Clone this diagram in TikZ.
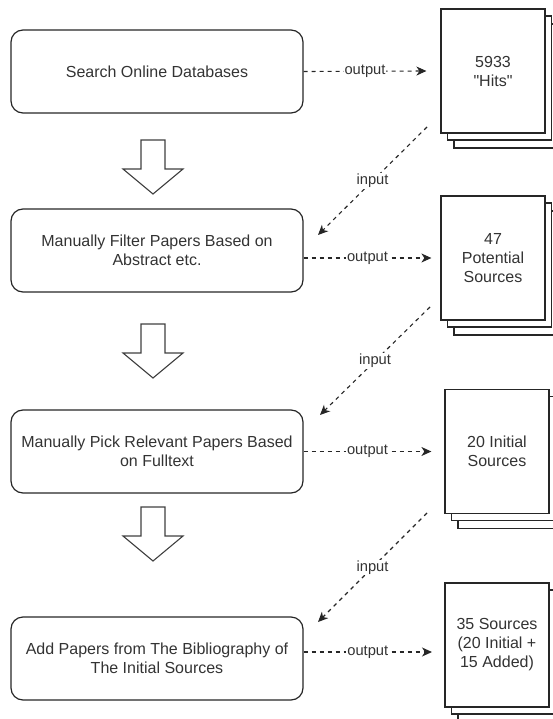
\documentclass[tikz,border=0pt]{standalone}
\usepackage{fontspec}
\setmainfont{Liberation Sans}[Ligatures=TeXOff]
\usetikzlibrary{positioning}
\usetikzlibrary{arrows.meta}
\usetikzlibrary{shadows}

\tikzset{
    task/.style={shape=rectangle,rounded corners=12pt,draw=black!85,line width=1.2pt,
        minimum width=292pt,minimum height=83pt,align=center,text=black!80,
        font=\fontsize{16}{19}\selectfont},
    docs/.style={shape=rectangle,draw=black!85,fill=white,line width=1.2pt,
        minimum width=104pt,minimum height=124pt,align=center,text=black!80,
        font=\fontsize{16}{19}\selectfont,
        general shadow={shadow xshift=13pt,shadow yshift=-15pt,fill=white,draw=black!85,line width=1.1pt},
        general shadow={shadow xshift=6.5pt,shadow yshift=-7pt,fill=white,draw=black!85,line width=1.1pt}},
    flow/.style={draw=black!85,line width=1.1pt,dash pattern=on 4pt off 4pt,
        -{Stealth[length=10pt,width=9pt,inset=3pt]}},
    lbl/.style={fill=white,text=black!80,inner sep=1pt,font=\fontsize{14.7}{17}\selectfont},
    blockdown/.pic={
        \draw[draw=black!75,line width=1.1pt,fill=white]
            (-12,0) -- (12,0) -- (12,29) -- (30,29) -- (0,54) -- (-30,29) -- (-12,29) -- cycle;}
}

\begin{document}
\begin{tikzpicture}[x=1pt,y=-1pt]
    \useasboundingbox (0,0) rectangle (552,719);

    \node[task] (search) at (157,71.5) {Search Online Databases};
    \node[task] (filter) at (157,250.5) {Manually Filter Papers Based on\\Abstract etc.};
    \node[task] (pick) at (157,451.5) {Manually Pick Relevant Papers Based\\on Fulltext};
    \node[task] (add) at (157,658.5) {Add Papers from The Bibliography of\\The Initial Sources};

    \node[docs] (hits) at (493,71) {5933\\"Hits"};
    \node[docs] (potential) at (493,258) {47\\Potential\\Sources};
    \node[docs] (initial) at (497,451.5) {20 Initial\\Sources};
    \node[docs] (total) at (497,645) {35 Sources\\(20 Initial +\\15 Added)};

    \pic (downA) at (153,140) {blockdown};
    \pic (downB) at (153,324) {blockdown};
    \pic (downC) at (153,507) {blockdown};

    \coordinate (out_D) at (432,652);
    \draw [flow] (search.east) -- node[lbl] {output} ([xshift=-14pt]hits.west);
    \draw [flow] (filter.east |- potential.west) -- node[lbl] {output} ([xshift=-9pt]potential.west);
    \draw [flow] (pick.east) -- node[lbl] {output} ([xshift=-13pt]initial.west);
    \draw [flow] (add.east |- out_D) -- node[lbl] {output} (out_D);

    \coordinate (in_A) at (427,127);
    \coordinate (to_A) at (318,235);
    \coordinate (in_B) at (430,307);
    \coordinate (to_B) at (320,415);
    \coordinate (in_C) at (427,513);
    \coordinate (to_C) at (318,622);
    \draw [flow] (in_A) -- node[lbl] {input} (to_A);
    \draw [flow] (in_B) -- node[lbl] {input} (to_B);
    \draw [flow] (in_C) -- node[lbl] {input} (to_C);
\end{tikzpicture}
\end{document}
